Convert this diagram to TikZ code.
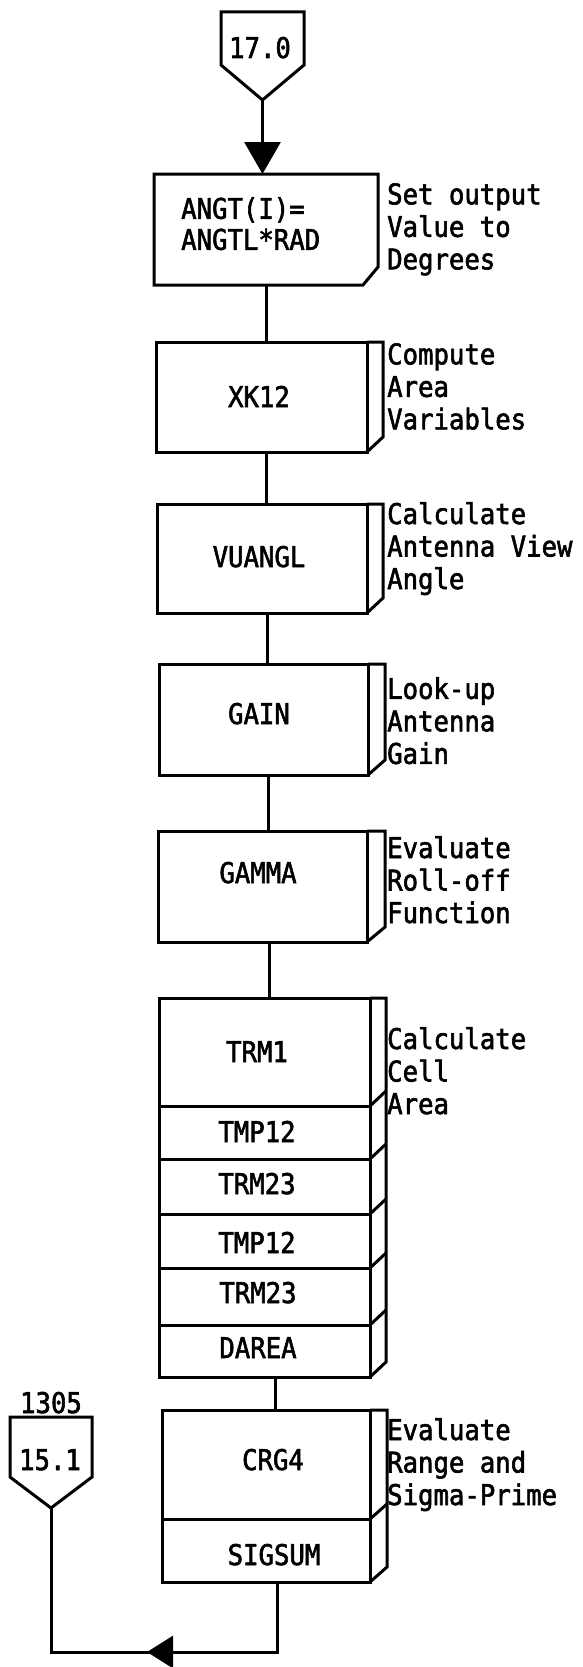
\documentclass[tikz,border=0pt]{standalone}
\usepackage{fontspec}
\newfontfamily\typew[FakeStretch=0.9,FakeBold=2]{DejaVu Sans Mono}
\usetikzlibrary{arrows.meta,decorations.markings,calc}
\newcommand\mkbox[6]{% name,left,inner,outer,top,bottom
  \node[boxnode, minimum width={#3-#2}, minimum height={#6-#5}] (#1) at ({(#2+#3)/2},{-(#5+#6)/2}) {};
  \draw[line] (#1.north east) -- ++(#4-#3,0) -- ($(#1.south east)+(#4-#3,15)$) -- (#1.south east);
}
\newcommand\mksec[5]{% name,left,inner,top,bottom
  \node[boxnode, minimum width={#3-#2}, minimum height={#5-#4}] (#1) at ({(#2+#3)/2},{-(#4+#5)/2}) {};
}
\begin{document}
\begin{tikzpicture}[x=1pt,y=1pt,
  line/.style={line width=3pt, line join=miter},
  boxnode/.style={draw, line width=3pt, inner sep=0pt, outer sep=0pt},
  btext/.style={font=\typew\fontsize{28.5}{31}\selectfont, inner sep=0pt, anchor=base},
  note/.style={font=\typew\fontsize{28.5}{32.5}\selectfont, inner sep=0pt, anchor=north west, align=left},
]
\useasboundingbox (0,0) rectangle (582,-1667);

% off-page connector 17.0
\coordinate (t17) at (262.5,-100);
\draw[line] (221,-12) -- (304,-12) -- (304,-65) -- (t17) -- (221,-65) -- cycle;
\node[btext] (c17) at (260,-58) {17.0};

% box 1 (chamfered)
\node[inner sep=0pt, outer sep=0pt, minimum width=224, minimum height=111] (b1) at (266,-229.5) {};
\draw[line] (b1.north west) -- (b1.north east) -- ([yshift=18]b1.south east) -- ([xshift=-15]b1.south east) -- (b1.south west) -- cycle;
\node[note, font=\typew\fontsize{28.5}{31}\selectfont] (t1) at (181,-197) {ANGT(I)=\\ANGTL*RAD};
\node[note] (n1) at (387,-183) {Set output\\Value to\\Degrees};

\draw[line, -{Triangle[length=32pt,width=36pt]}] (t17) -- (t17 |- b1.north);

% subroutine boxes
\mkbox{xk}{156}{367}{383}{342}{452}
\node[btext] (txk) at (259,-407) {XK12};
\node[note] (n2) at (387,-343) {Compute\\Area\\Variables};

\mkbox{vu}{157}{367}{383}{504}{613}
\node[btext] (tvu) at (259,-567) {VUANGL};
\node[note] (n3) at (387,-502) {Calculate\\Antenna View\\Angle};

\mkbox{ga}{159}{368}{385}{664}{775}
\node[btext] (tga) at (259,-724) {GAIN};
\node[note] (n4) at (387,-677) {Look-up\\Antenna\\Gain};

\mkbox{gm}{158}{367}{385}{831}{942}
\node[btext] (tgm) at (258,-883) {GAMMA};
\node[note] (n5) at (387,-836) {Evaluate\\Roll-off\\Function};

% stacked box
\mksec{s1}{159}{370}{998}{1106}
\mksec{s2}{159}{370}{1106}{1159}
\mksec{s3}{159}{370}{1159}{1214}
\mksec{s4}{159}{370}{1214}{1268}
\mksec{s5}{159}{370}{1268}{1325}
\mksec{s6}{159}{370}{1325}{1377}
\draw[line] (s1.north east) -- ++(16,0) -- ($(s6.south east)+(16,15)$) -- (s6.south east);
\foreach \s in {s1,s2,s3,s4,s5} \draw[line] (\s.south east) -- ++(16,15);
\node[btext] (ts1) at (257,-1062) {TRM1};
\node[btext] (ts2) at (257,-1142) {TMP12};
\node[btext] (ts3) at (257,-1194) {TRM23};
\node[btext] (ts4) at (257,-1253) {TMP12};
\node[btext] (ts5) at (258,-1303) {TRM23};
\node[btext] (ts6) at (258,-1358) {DAREA};
\node[note] (n6) at (387,-1027) {Calculate\\Cell\\Area};

% CRG4 / SIGSUM
\mksec{r1}{162}{370}{1410}{1519}
\mksec{r2}{162}{370}{1519}{1582}
\draw[line] (r1.north east) -- ++(17,0) -- ($(r2.south east)+(17,15)$) -- (r2.south east);
\draw[line] (r1.south east) -- ++(17,15);
\node[btext] (tr1) at (273,-1470) {CRG4};
\node[btext] (tr2) at (274,-1565) {SIGSUM};
\node[note] (n7) at (387,-1418) {Evaluate\\Range and\\Sigma-Prime};

% connectors
\coordinate (k1) at (266,0);
\coordinate (k2) at (267,0);
\coordinate (k3) at (268,0);
\coordinate (k4) at (269,0);
\coordinate (k5) at (275,0);
\coordinate (k6) at (277,0);
\draw[line] (b1.south -| k1) -- (xk.north -| k1);
\draw[line] (xk.south -| k1) -- (vu.north -| k1);
\draw[line] (vu.south -| k2) -- (ga.north -| k2);
\draw[line] (ga.south -| k3) -- (gm.north -| k3);
\draw[line] (gm.south -| k4) -- (s1.north -| k4);
\draw[line] (s6.south -| k5) -- (r1.north -| k5);

% exit connector 15.1
\coordinate (t15) at (51,-1508);
\draw[line] (10,-1417) -- (92,-1417) -- (92,-1477) -- (t15) -- (10,-1477) -- cycle;
\node[btext] (c15) at (50,-1470) {15.1};
\node[btext] (l1305) at (51,-1413) {1305};

\draw[line, postaction={decorate}, decoration={markings, mark=at position 200pt with {\arrow{Triangle[length=26pt,width=32pt]}}}]
  (r2.south -| k6) -- ++(0,-70) -| (t15);
\end{tikzpicture}
\end{document}
